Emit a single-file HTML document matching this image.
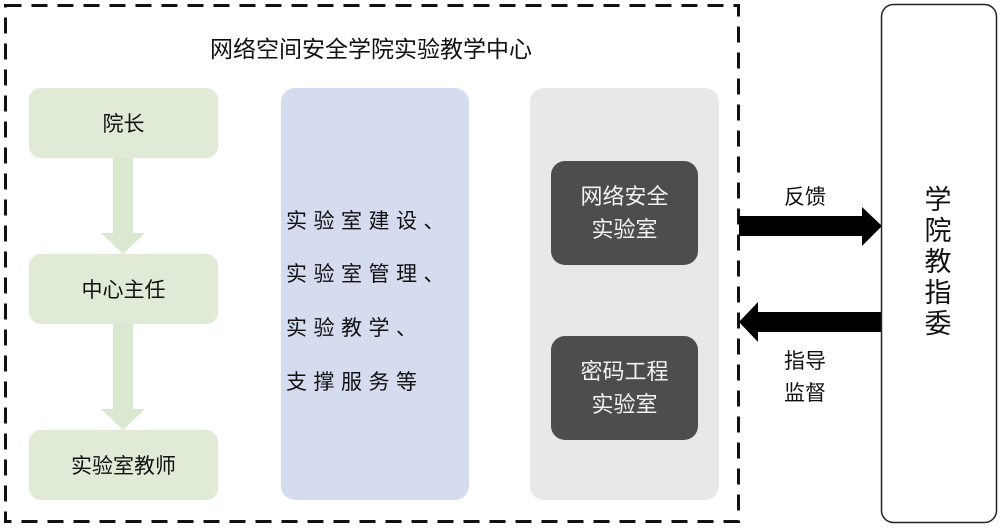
<!DOCTYPE html>
<html><head><meta charset="utf-8"><style>
body{margin:0;width:1000px;height:528px;background:#fff;position:relative;overflow:hidden;font-family:"Liberation Sans","Noto Sans CJK SC",sans-serif;color:#111}
.a{position:absolute;box-sizing:border-box}
.g{background:#dfebd6;border-radius:12px;left:29px;width:189px;height:70px;display:flex;align-items:center;justify-content:center;font-size:21px}
.d{background:#4d4d4d;color:#f2f2f2;border-radius:14px;left:551px;width:147px;height:104px;display:flex;align-items:center;justify-content:center;text-align:center;font-size:22px;line-height:33px}
.t{left:286px;font-size:21px;letter-spacing:6.5px;white-space:nowrap}
</style></head><body>
<svg class="a" style="left:0;top:0" width="1000" height="528">
<rect x="5.5" y="5.5" width="733" height="516" fill="none" stroke="#111" stroke-width="3" stroke-dasharray="16,10"/>
<rect x="281" y="88" width="188" height="412" rx="14" fill="#d6dcef"/>
<rect x="530" y="88" width="189" height="412" rx="14" fill="#e8e8e8"/>
<g fill="#d9e8cf">
<polygon points="113,158 133,158 133,233 145,233 123,254 101,233 113,233"/>
<polygon points="113,324 133,324 133,409 145,409 123,430 101,409 113,409"/>
</g>
<polygon points="739,216 862,216 862,207 882,226 862,246 862,236 739,236" fill="#000"/>
<polygon points="882,312 758,312 758,302 739,322 758,342 758,332 882,332" fill="#000"/>
<rect x="881.5" y="4.5" width="115" height="518" rx="12" fill="none" stroke="#222" stroke-width="1.5"/>
</svg>
<div class="a" style="left:0;width:742px;top:30px;text-align:center;font-size:23px">网络空间安全学院实验教学中心</div>
<div class="a g" style="top:88px">院长</div>
<div class="a g" style="top:254px">中心主任</div>
<div class="a g" style="top:430px">实验室教师</div>
<div class="a t" style="top:205px">实验室建设、</div>
<div class="a t" style="top:258px">实验室管理、</div>
<div class="a t" style="top:312px">实验教学、</div>
<div class="a t" style="top:366px">支撑服务等</div>
<div class="a d" style="top:161px">网络安全<br>实验室</div>
<div class="a d" style="top:336px">密码工程<br>实验室</div>
<div class="a" style="left:784px;top:181px;font-size:21px">反馈</div>
<div class="a" style="left:784px;top:346px;font-size:21px;line-height:32px">指导<br>监督</div>
<div class="a" style="left:923px;top:185px;width:30px;font-size:27px;line-height:31px;text-align:center">学院教指委</div>
</body></html>
